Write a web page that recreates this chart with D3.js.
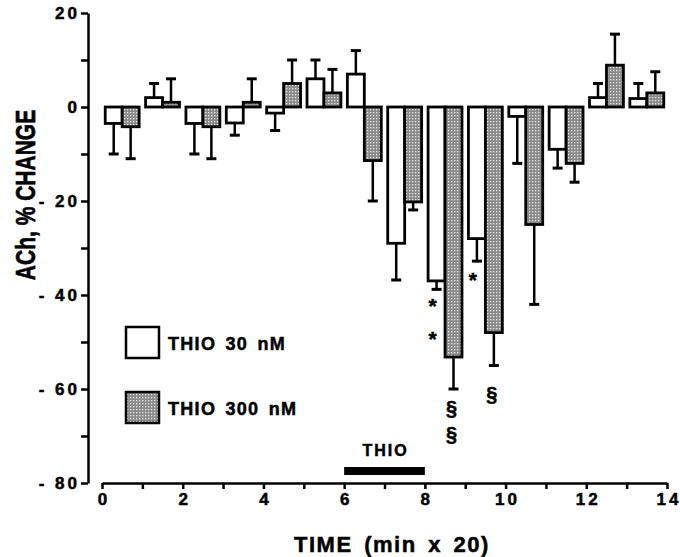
<!DOCTYPE html>
<html>
<head>
<meta charset="utf-8">
<title></title>
<script src="https://d3js.org/d3.v7.min.js"></script>
<style>
  body { margin: 0; background: #fff; }
  svg text { font-family: "Liberation Sans", Arial, sans-serif; font-weight: bold; fill: #000; stroke: #000; stroke-width: 0.5; }
  .axis path, .axis line { stroke: #000; stroke-width: 2.5; fill: none; }
  .axis text { font-size: 17px; letter-spacing: 3px; }
</style>
</head>
<body>
<svg width="680" height="557"></svg>
<script>
// time points (pair centres), min x 20
var times = [0.5, 1.5, 2.5, 3.5, 4.5, 5.5, 6.5, 7.5, 8.5, 9.5, 10.5, 11.5, 12.5, 13.5];
// THIO 30 nM: mean % change and error (SEM)
var thio30 = [-3.5, 2, -3.5, -3.4, -1.3, 6, 7, -29, -37, -28, -2, -9, 2, 1.8];
var thio30Err = [6.5, 3, 6.5, 2.6, 3.7, 4, 5, 7.8, 1.8, 4.8, 10, 4, 3, 3.2];
// THIO 300 nM
var thio300 = [-4.2, 1, -4.2, 1, 5, 3, -11.4, -20.2, -53.2, -48, -25, -12, 8.9, 3];
var thio300Err = [6.8, 5, 6.8, 5, 5, 5, 8.6, 1.7, 6.8, 7, 17, 4, 6.6, 4.5];
var yTicks = [-80, -70, -60, -50, -40, -30, -20, -10, 0, 10, 20];
var xTicks = [0, 1, 2, 3, 4, 5, 6, 7, 8, 9, 10, 11, 12, 13, 14];
// significance marks: time, series (0 = 30 nM, 1 = 300 nM), value, symbol
var marks = [
  {t: 8.5, s: 0, v: -41, sym: "*"},
  {t: 8.5, s: 0, v: -48, sym: "*"},
  {t: 9.5, s: 0, v: -35.5, sym: "*"},
  {t: 8.5, s: 1, v: -64, sym: "§"},
  {t: 8.5, s: 1, v: -69.5, sym: "§"},
  {t: 9.5, s: 1, v: -61, sym: "§"}
];
var thioPeriod = [6, 8];

var x = d3.scaleLinear().domain([0, 14]).range([102, 667]);
var y = d3.scaleLinear().domain([-80, 20]).range([483, 13]);
var half = 0.42;

var svg = d3.select("svg");

var defs = svg.append("defs");
var pat = defs.append("pattern")
  .attr("id", "stipple")
  .attr("width", 3).attr("height", 3)
  .attr("patternUnits", "userSpaceOnUse");
pat.append("rect").attr("width", 3).attr("height", 3).attr("fill", "#8a8a8a");
pat.append("rect").attr("x", 1).attr("y", 1).attr("width", 1.3).attr("height", 1.3).attr("fill", "#e6e6e6");

// axes
var yaxis = d3.axisLeft(y).tickValues(yTicks).tickSize(7).tickSizeOuter(0)
  .tickFormat(function(d) {
    if (d % 20 != 0) return "";
    return d < 0 ? "- " + Math.abs(d) : String(d);
  });
svg.append("g")
  .attr("class", "axis")
  .attr("transform", "translate(88,0)")
  .call(yaxis)
  .selectAll("text").attr("x", -8);

var xaxis = d3.axisBottom(x).tickValues(xTicks).tickSize(6).tickSizeOuter(0)
  .tickFormat(function(d) { return d % 2 == 0 ? String(d) : ""; });
svg.append("g")
  .attr("class", "axis")
  .attr("transform", "translate(0,483)")
  .call(xaxis)
  .selectAll("text").attr("y", 10).attr("dx", "1.5px");

// bars
function drawSeries(vals, errs, offset, fill) {
  var g = svg.append("g");
  times.forEach(function(t, i) {
    var x0 = x(t + offset), x1 = x(t + offset + half);
    var v = vals[i];
    var top = y(Math.max(v, 0)), bot = y(Math.min(v, 0));
    var cx = (x0 + x1) / 2;
    var end = v >= 0 ? v + errs[i] : v - errs[i];
    g.append("line")
      .attr("x1", cx).attr("x2", cx)
      .attr("y1", y(v)).attr("y2", y(end))
      .attr("stroke", "#000").attr("stroke-width", 2.5);
    g.append("line")
      .attr("x1", cx - 5).attr("x2", cx + 5)
      .attr("y1", y(end)).attr("y2", y(end))
      .attr("stroke", "#000").attr("stroke-width", 3);
    g.append("rect")
      .attr("x", x0).attr("y", top)
      .attr("width", x1 - x0).attr("height", Math.max(bot - top, 0.5))
      .attr("fill", fill)
      .attr("stroke", "#000").attr("stroke-width", 2.8);
  });
}
drawSeries(thio30, thio30Err, -half, "#fff");
drawSeries(thio300, thio300Err, 0, "url(#stipple)");

// significance marks
svg.selectAll(".mark").data(marks).enter().append("text")
  .attr("class", "mark")
  .attr("x", function(d) { return x(d.t + (d.s == 0 ? -half / 2 - 0.1 : half / 2 - 0.05)); })
  .attr("y", function(d) { return y(d.v); })
  .attr("dy", function(d) { return d.sym == "*" ? "0.62em" : "0.36em"; })
  .attr("text-anchor", "middle")
  .style("font-size", function(d) { return d.sym == "*" ? "21px" : "20px"; })
  .text(function(d) { return d.sym; });

// THIO application period
svg.append("rect")
  .attr("x", x(thioPeriod[0])).attr("y", 467)
  .attr("width", x(thioPeriod[1]) - x(thioPeriod[0])).attr("height", 8)
  .attr("fill", "#000");
svg.append("text")
  .attr("x", (x(thioPeriod[0]) + x(thioPeriod[1])) / 2 + 1)
  .attr("y", 456)
  .attr("text-anchor", "middle")
  .style("font-size", "16px").style("letter-spacing", "2px")
  .text("THIO");

// legend
var legend = [{label: "THIO 30 nM", fill: "#fff"}, {label: "THIO 300 nM", fill: "url(#stipple)"}];
legend.forEach(function(d, i) {
  var ly = 327 + i * 65;
  svg.append("rect")
    .attr("x", 126).attr("y", ly).attr("width", 33).attr("height", 31)
    .attr("fill", d.fill).attr("stroke", "#000").attr("stroke-width", 2.5);
  svg.append("text")
    .attr("x", 168).attr("y", ly + 23)
    .style("font-size", "18px").style("letter-spacing", "1.3px").style("word-spacing", "3px")
    .text(d.label);
});

// axis titles
svg.append("text")
  .attr("x", 392).attr("y", 552)
  .attr("text-anchor", "middle")
  .style("font-size", "22px").style("letter-spacing", "1.5px").style("word-spacing", "4px")
  .text("TIME (min x 20)");
svg.append("text")
  .attr("transform", "translate(35,195) rotate(-90) scale(1,1.3)")
  .attr("text-anchor", "middle")
  .style("font-size", "21px")
  .text("ACh, % CHANGE");
</script>
</body>
</html>
